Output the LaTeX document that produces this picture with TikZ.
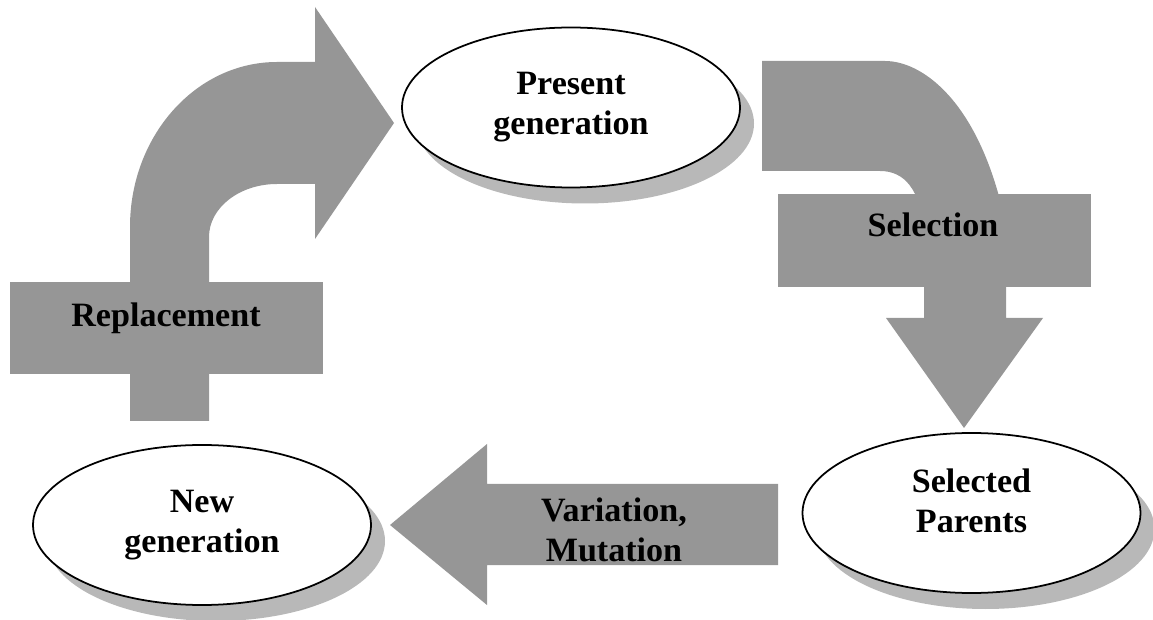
\documentclass[tikz,border=0pt]{standalone}
\usepackage{fontspec}
\setmainfont{Liberation Serif}
\usepackage{xcolor}
\usepackage{tikz}
\usetikzlibrary{shapes.geometric,shadows}

\definecolor{arrowgray}{gray}{0.59}
\definecolor{shadowgray}{gray}{0.72}

\begin{document}
\begin{tikzpicture}[
    generation/.style={ellipse, draw, line width=1pt, fill=white, minimum width=6.76cm, minimum height=3.2cm, inner sep=0pt, align=center, font=\fontsize{19.4}{22.8}\selectfont\bfseries, drop shadow={shadow xshift=0.28cm, shadow yshift=-0.32cm, fill=shadowgray, opacity=1}},
    bigarrow/.style={fill=arrowgray},
    operator/.style={align=center, inner sep=0pt, font=\fontsize{19.4}{22.8}\selectfont\bfseries}
]
\useasboundingbox (0,0) rectangle (23.06,12.38);

% Replacement arrow
\fill[bigarrow] (2.6,3.96) -- (2.6,7.84) arc[start angle=180, end angle=90, x radius=2.94cm, y radius=3.3cm] -- (6.3,11.14) -- (6.3,12.24) -- (7.88,9.92) -- (6.3,7.6) -- (6.3,8.7) -- (5.54,8.7) arc[start angle=90, end angle=180, x radius=1.36cm, y radius=1.06cm] -- (4.18,3.96) -- cycle;
\fill[bigarrow] (0.2,4.9) rectangle (6.46,6.74);

% Selection arrow
\fill[bigarrow] (15.24,11.16) -- (17.7,11.16) .. controls (18.4,11.16) and (19.45,10.45) .. (20.0,8.38) -- (20.12,6.64) -- (20.12,6.02) -- (20.86,6.02) -- (19.28,3.82) -- (17.72,6.02) -- (18.48,6.02) -- (18.48,7.78) .. controls (18.4,8.58) and (18.1,8.96) .. (17.6,8.96) -- (15.24,8.96) -- cycle;
\fill[bigarrow] (15.56,6.64) rectangle (21.82,8.5);

% Variation arrow
\fill[bigarrow] (7.8,1.88) -- (9.74,3.5) -- (9.74,2.7) -- (15.56,2.7) -- (15.56,1.08) -- (9.74,1.08) -- (9.74,0.28) -- cycle;

% Generations
\node[generation] (present) at (11.42,10.23) {Present\\generation};
\node[generation, text depth=0.5cm] (parents) at (19.43,2.12) {Selected\\Parents};
\node[generation] (newgen) at (4.04,1.88) {New\\generation};

% Operators
\node[operator] (replacement) at (3.32,6.02) {Replacement};
\node[operator] (selection) at (18.66,7.88) {Selection};
\node[operator] (variation) at (12.28,1.78) {Variation,\\Mutation};

\end{tikzpicture}
\end{document}
